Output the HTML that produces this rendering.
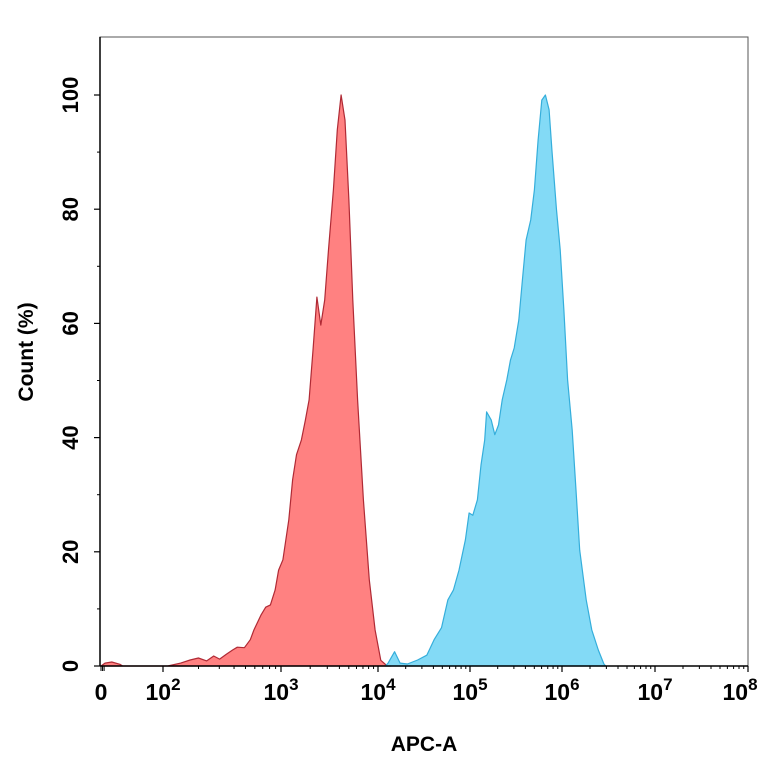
<!DOCTYPE html>
<html><head><meta charset="utf-8"><style>
body{margin:0;background:#fff}
svg{display:block;font-family:"Liberation Sans",Arial,sans-serif}
</style></head><body>
<svg id="chart" width="764" height="764" viewBox="0 0 764 764"></svg>
<script>
// Data (x values in log10 units; 0 region uses linear mapping to 10^2)
const redLogX=[0,0.13,0.35,0.61,0.7,2.0,2.04,2.15,2.23,2.30,2.37,2.43,2.48,2.54,2.59,2.63,2.69,2.74,2.77,2.83,2.87,2.91,2.95,2.98,3.02,3.08,3.12,3.16,3.21,3.25,3.29,3.33,3.37,3.41,3.45,3.49,3.54,3.58,3.62,3.66,3.70,3.74,3.79,3.85,3.91,3.97,4.03,4.10,4.14];
const redCount=[0,0.5,0.7,0.3,0,0,0,0.5,1.05,1.4,0.9,1.75,1.2,2.1,2.8,3.3,3.2,4.6,6.3,8.9,10.3,10.7,13.3,16.8,18.6,25.6,32.6,37,39.6,43,46.6,55.3,64.6,59.7,64.1,72.9,83.4,93.9,100,95.6,81.6,64.1,46.6,29.1,15.1,6.3,1,0,0];
const blueLogX=[4.08,4.11,4.18,4.24,4.32,4.43,4.53,4.61,4.69,4.76,4.82,4.88,4.95,4.99,5.03,5.08,5.12,5.16,5.18,5.23,5.27,5.31,5.35,5.40,5.44,5.48,5.53,5.57,5.61,5.66,5.70,5.74,5.78,5.82,5.86,5.89,5.94,5.98,6.02,6.06,6.11,6.15,6.19,6.26,6.32,6.39,6.45,6.47];
const blueCount=[0,0.5,2.5,0.5,0.35,1.05,1.9,4.6,6.7,11.6,13.3,16.8,22.1,26.8,26.4,29.1,35.2,39.6,44.5,43.1,40.5,42.2,46.6,50.1,53.6,55.7,60.6,67.6,74.6,78.1,83.4,92.1,99.1,100,97.4,90.4,79.9,72.9,62.3,50.1,41.3,30.8,20.3,11.6,6.3,2.8,0.35,0];
const yTicks=[0,20,40,60,80,100];
const xTickLabels=[[0,"0",""],[2,"10","2"],[3,"10","3"],[4,"10","4"],[5,"10","5"],[6,"10","6"],[7,"10","7"],[8,"10","8"]];

const NS="http://www.w3.org/2000/svg";
const svg=document.getElementById('chart');
const L=100,R=748,T=37,B=666;
const anchors=[[0,101],[2,163],[3,281],[4,378],[5,470],[6,562],[7,655],[8,748]];
function xScale(v){
  for(let i=0;i<anchors.length-1;i++){
    const a=anchors[i],b=anchors[i+1];
    if(v<=b[0]||i===anchors.length-2) return a[1]+(v-a[0])/(b[0]-a[0])*(b[1]-a[1]);
  }
}
function yScale(c){return B-c*5.71;}
function mk(tag,attrs,parent){const e=document.createElementNS(NS,tag);for(const k in attrs)e.setAttribute(k,attrs[k]);(parent||svg).appendChild(e);return e;}

const frame=mk('rect',{x:L,y:T,width:R-L,height:B-T,fill:'none',stroke:'#555','stroke-width':1});



function series(xs,ys,fill,stroke,name){
  let d='M'+xScale(xs[0]).toFixed(1)+','+B;
  for(let i=0;i<xs.length;i++) d+=' L'+xScale(xs[i]).toFixed(1)+','+yScale(ys[i]).toFixed(1);
  d+=' L'+xScale(xs[xs.length-1]).toFixed(1)+','+B+' Z';
  const p=mk('path',{d:d,fill:fill,'fill-opacity':0.85,stroke:stroke,'stroke-width':1.2,'stroke-linejoin':'round'});
  
  
}
series(redLogX,redCount,'#ff6b6b','#b02a35','red-histogram');
series(blueLogX,blueCount,'#6dd3f5','#35aedb','blue-histogram');

const ax=mk('line',{x1:L,y1:B,x2:R,y2:B,stroke:'#000','stroke-width':1.5});


const ay=mk('line',{x1:L,y1:T,x2:L,y2:B,stroke:'#000','stroke-width':1.5});



yTicks.forEach(v=>{
  const y=yScale(v);
  mk('line',{x1:L-6,y1:y,x2:L,y2:y,stroke:'#000','stroke-width':1.2});
  const t=mk('text',{x:L-22,y:y,transform:`rotate(-90 ${L-22} ${y})`,'text-anchor':'middle','font-size':22,'font-weight':'bold'});
  t.textContent=v;
  
  
});
for(let v=10;v<100;v+=20){const y=yScale(v);mk('line',{x1:L-3,y1:y,x2:L,y2:y,stroke:'#000'});}

for(let d=2;d<=8;d++){
  const x=xScale(d);
  mk('line',{x1:x,y1:B,x2:x,y2:B+6,stroke:'#000','stroke-width':1.2});
  if(d<8) for(let m=2;m<=9;m++){const xm=xScale(d+Math.log10(m));mk('line',{x1:xm,y1:B,x2:xm,y2:B+3,stroke:'#000'});}
}
[0,0.05,0.1].forEach(v=>{const x=xScale(v);mk('line',{x1:x,y1:B,x2:x,y2:B+5,stroke:'#000'});});
xTickLabels.forEach(([v,base,exp])=>{
  let x=xScale(v);
  if(v===8) x-=8;
  const t=mk('text',{x:x,y:B+34,'text-anchor':'middle','font-size':23,'font-weight':'bold'});
  t.textContent=base;
  
  
  if(exp){const s=mk('tspan',{dy:-10,'font-size':17},t);s.textContent=exp;}
});

const xt=mk('text',{x:424,y:751,'text-anchor':'middle','font-size':21,'font-weight':'bold'});
xt.textContent='APC-A';


const yt=mk('text',{x:33,y:352,transform:'rotate(-90 33 352)','text-anchor':'middle','font-size':21,'font-weight':'bold'});
yt.textContent='Count (%)';


</script>
</body></html>
